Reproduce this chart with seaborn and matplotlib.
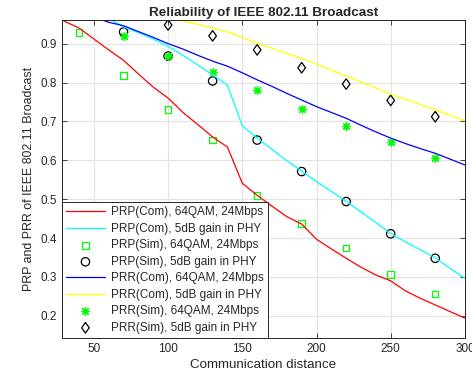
import numpy as np
import matplotlib
matplotlib.use("Agg")
import matplotlib.pyplot as plt
import seaborn as sns

# ---- data ----
dist_line = [30, 40, 50, 60, 70, 80, 90, 100, 110, 120, 130, 140, 150, 160, 170,
             180, 190, 200, 210, 220, 230, 240, 250, 260, 270, 280, 290, 300]
prp_com_64qam = [0.958, 0.940, 0.912, 0.884, 0.857, 0.822, 0.788, 0.760, 0.723, 0.692,
                 0.660, 0.634, 0.541, 0.510, 0.482, 0.455, 0.436, 0.397, 0.372, 0.348,
                 0.325, 0.305, 0.290, 0.264, 0.245, 0.228, 0.211, 0.194]

dist_cyan = [60, 70, 80, 90, 100, 110, 120, 130, 140, 150, 160, 170, 180, 190, 200,
             210, 220, 230, 240, 250, 260, 270, 280, 290, 300]
prp_com_5db = [0.965, 0.943, 0.928, 0.912, 0.893, 0.870, 0.845, 0.820, 0.793, 0.689,
               0.657, 0.628, 0.599, 0.572, 0.545, 0.520, 0.495, 0.467, 0.440, 0.412,
               0.390, 0.370, 0.349, 0.322, 0.297]

dist_blue = [50, 60, 70, 80, 90, 100, 110, 120, 130, 140, 150, 160, 170, 180, 190,
             200, 210, 220, 230, 240, 250, 260, 270, 280, 290, 300]
prr_com_64qam = [0.968, 0.955, 0.946, 0.931, 0.916, 0.900, 0.886, 0.870, 0.855, 0.842,
                 0.825, 0.807, 0.790, 0.772, 0.755, 0.738, 0.723, 0.708, 0.690, 0.673,
                 0.657, 0.643, 0.630, 0.618, 0.603, 0.588]

dist_yellow = [100, 110, 120, 130, 140, 150, 160, 170, 180, 190, 200, 210, 220,
               230, 240, 250, 260, 270, 280, 290, 300]
prr_com_5db = [0.968, 0.958, 0.950, 0.940, 0.930, 0.916, 0.901, 0.888, 0.875, 0.862,
               0.848, 0.832, 0.817, 0.801, 0.786, 0.770, 0.757, 0.743, 0.730, 0.716, 0.702]

dist_sim = [40, 70, 100, 130, 160, 190, 220, 250, 280]
prp_sim_64qam = [0.929, 0.818, 0.731, 0.652, 0.509, 0.438, 0.375, 0.306, 0.256]

dist_sim_b = [70, 100, 130, 160, 190, 220, 250, 280]
prp_sim_5db = [0.930, 0.868, 0.804, 0.652, 0.571, 0.494, 0.411, 0.348]
prr_sim_64qam = [0.920, 0.868, 0.827, 0.781, 0.731, 0.687, 0.646, 0.606]

dist_sim_d = [100, 130, 160, 190, 220, 250, 280]
prr_sim_5db = [0.948, 0.920, 0.884, 0.838, 0.796, 0.754, 0.712]

# ---- style ----
sns.set_style("ticks")
plt.rcParams['font.family'] = ['Liberation Sans', 'DejaVu Sans']
plt.rcParams['font.size'] = 8.5

fig = plt.figure(figsize=(4.72, 3.83), dpi=100)
ax = fig.add_axes([0.131, 0.1175, 0.854, 0.8305])

# MATLAB-like diamond (a bit taller than wide)
diamond = [(0, 1), (0.72, 0), (0, -1), (-0.72, 0), (0, 1)]

lw = 0.9
sns.lineplot(x=dist_line, y=prp_com_64qam, color='#ff0000', lw=lw, ax=ax,
             label='PRP(Com), 64QAM, 24Mbps')
sns.lineplot(x=dist_cyan, y=prp_com_5db, color='#00ffff', lw=lw, ax=ax,
             label='PRP(Com), 5dB gain in PHY')
sns.scatterplot(x=dist_sim, y=prp_sim_64qam, marker='s', s=22, facecolor='none',
                edgecolor='#00ff00', linewidth=0.9, ax=ax, label='PRP(Sim), 64QAM, 24Mbps')
sns.scatterplot(x=dist_sim_b, y=prp_sim_5db, marker='o', s=36, facecolor='none',
                edgecolor='black', linewidth=0.9, ax=ax, label='PRP(Sim), 5dB gain in PHY')
sns.lineplot(x=dist_blue, y=prr_com_64qam, color='#0000ff', lw=lw, ax=ax,
             label='PRR(Com), 64QAM, 24Mbps')
sns.lineplot(x=dist_yellow, y=prr_com_5db, color='#ffff00', lw=lw, ax=ax,
             label='PRR(Com), 5dB gain in PHY')
sns.scatterplot(x=dist_sim_b, y=prr_sim_64qam, marker=(8, 2, 0), s=30,
                edgecolor='#00ff00', color='#00ff00', linewidth=0.9, ax=ax,
                label='PRR(Sim), 64QAM, 24Mbps')
sns.scatterplot(x=dist_sim_d, y=prr_sim_5db, marker=diamond, s=58, facecolor='none',
                edgecolor='black', linewidth=0.9, ax=ax, label='PRR(Sim), 5dB gain in PHY')

ax.set_xlim(28.4, 300)
ax.set_ylim(0.143, 0.961)
ax.set_xticks([50, 100, 150, 200, 250, 300])
ax.set_yticks([0.2, 0.3, 0.4, 0.5, 0.6, 0.7, 0.8, 0.9])
ax.grid(True, color='#e3e3e3', lw=0.8)
ax.set_axisbelow(True)
ax.tick_params(direction='in', top=True, right=True, length=3.5, width=0.6,
               labelsize=8.5, colors='#262626')
for sp in ax.spines.values():
    sp.set_color('#262626')
    sp.set_linewidth(0.7)
    sp.set_visible(True)

ax.set_title('Reliability of IEEE 802.11 Broadcast', fontsize=9.7, fontweight='bold', pad=3)
ax.set_xlabel('Communication distance', fontsize=9.6, color='#262626', labelpad=3)
ax.set_ylabel('PRP and PRR of IEEE 802.11 Broadcast', fontsize=8.9, color='#262626')

leg = ax.legend(loc='lower left', borderaxespad=0, fancybox=False, framealpha=1,
                edgecolor='#262626', handlelength=3.3, fontsize=8.5,
                labelspacing=0.38, borderpad=0.35, handletextpad=0.5)
leg.get_frame().set_linewidth(0.7)

fig.savefig('out.png', dpi=100)
